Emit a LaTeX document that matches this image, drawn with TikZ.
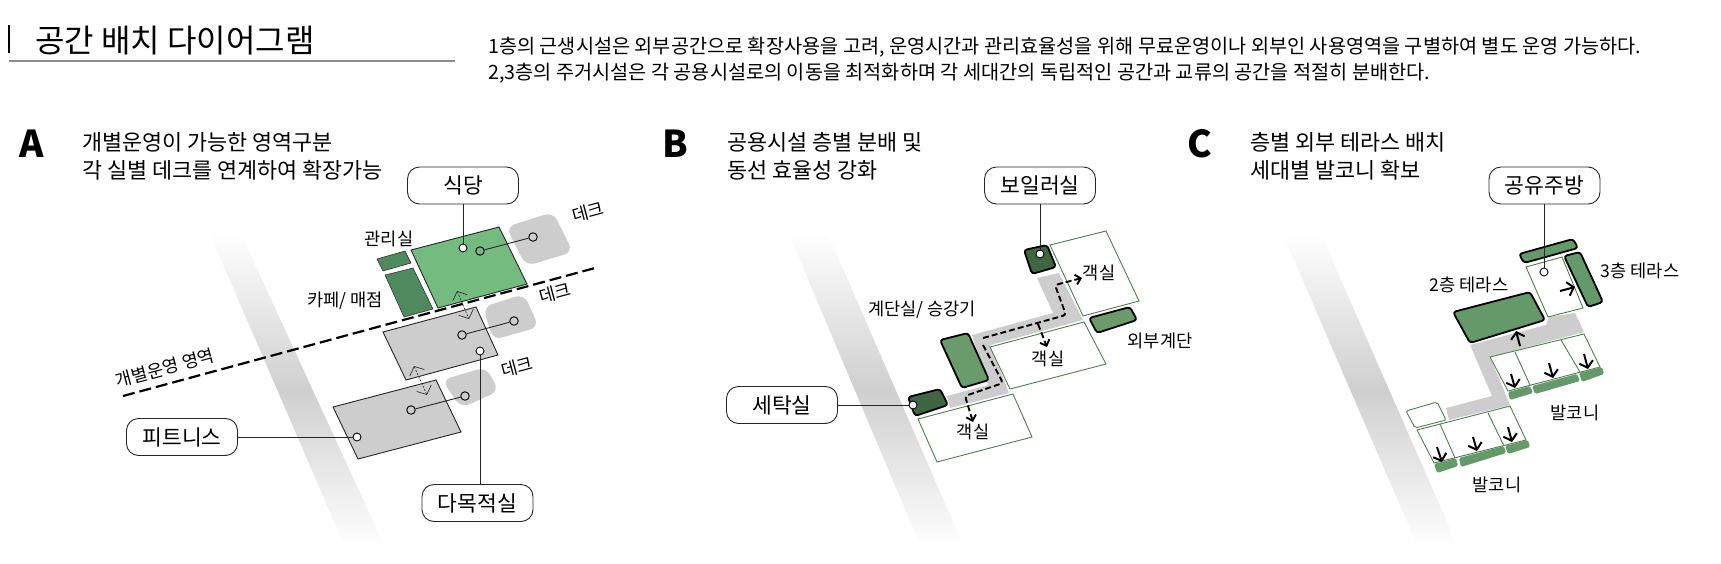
\documentclass[tikz,border=0pt]{standalone}
\usepackage{fontspec}
\setmainfont{Noto Sans CJK KR}
\usepackage{xcolor}
\usetikzlibrary{arrows.meta, positioning}

\definecolor{roadgray}{HTML}{CFCFCF}
\definecolor{deckgray}{HTML}{CDCDCD}
\definecolor{dinegreen}{HTML}{74BB80}
\definecolor{cafegreen}{HTML}{4F8A5F}
\definecolor{stairgreen}{HTML}{6A9C6B}
\definecolor{terracegreen}{HTML}{64996A}
\definecolor{darkgreen}{HTML}{3E6640}
\definecolor{linegreen}{HTML}{4F7F50}

\begin{document}
\begin{tikzpicture}[
  x=1pt, y=-1pt,
  every node/.style={font=\fontsize{17.6}{20}\selectfont, inner sep=0pt},
  road/.style={top color=white, bottom color=white, middle color=roadgray},
  deck/.style={fill=deckgray, rounded corners=9pt},
  room/.style={fill=deckgray, draw=black!85, line width=0.9pt},
  guest/.style={fill=white, draw=linegreen, line width=0.9pt},
  stairbox/.style={draw=black, line width=1.8pt, rounded corners=3pt},
  balcony/.style={fill=terracegreen, rounded corners=1.5pt},
  callout/.style={rectangle, rounded corners=12pt, draw=black!85, line width=0.9pt, fill=white,
                  minimum width=111pt, minimum height=37pt, font=\fontsize{21.5}{24}\selectfont},
  header/.style={align=left, anchor=north west, font=\fontsize{21.8}{28}\selectfont},
  letter/.style={font=\fontsize{37}{40}\selectfont\bfseries},
  dot/.style={circle, draw=black, line width=0.9pt, fill=white, minimum size=8pt},
  linkdot/.style={circle, draw=black, line width=0.9pt, minimum size=8.5pt},
  leader/.style={draw=black!85, line width=0.9pt},
  dblarr/.style={{Straight Barb[length=7pt,width=16pt]}-{Straight Barb[length=7pt,width=16pt]},
                 dash pattern=on 2pt off 1.5pt, line width=0.7pt, draw=black!80},
  zone/.style={dash pattern=on 12pt off 5pt, line width=2.2pt},
  flow/.style={-{Straight Barb[length=5pt,width=10pt]}, dash pattern=on 6pt off 3pt,
               line width=1.9pt, rounded corners=3pt},
  arr/.style={-{Straight Barb[length=6pt,width=14pt]}, line width=2pt},
]
  \useasboundingbox (0,0) rectangle (1721,563);

  % Title
  \coordinate (barT) at (9,25);
  \coordinate (barB) at (9,53);
  \coordinate (ruleL) at (9,61);
  \coordinate (ruleR) at (455,61);
  \draw[line width=1.1pt] (barT) -- (barB);
  \draw[black!45, line width=1.4pt] (ruleL) -- (ruleR);
  \node[anchor=west, font=\fontsize{32}{36}\selectfont] (title) at (35,41) {공간 배치 다이어그램};
  \node[anchor=north west, align=left, font=\fontsize{19.7}{25.5}\selectfont] (intro) at (488,37)
    {1층의 근생시설은 외부공간으로 확장사용을 고려, 운영시간과 관리효율성을 위해 무료운영이나 외부인 사용영역을 구별하여 별도 운영 가능하다.\\
     2,3층의 주거시설은 각 공용시설로의 이동을 최적화하며 각 세대간의 독립적인 공간과 교류의 공간을 적절히 분배한다.};

  % Panel A
  \node[letter] (letA) at (32,144) {A};
  \node[header] (headA) at (82,132) {개별운영이 가능한 영역구분\\각 실별 데크를 연계하여 확장가능};
  \shade[road] (209,232) -- (240,232) -- (385,547) -- (345,547) -- cycle;

  \fill[deck] (506,227) -- (553,212) -- (573,252) -- (526,266) -- cycle;
  \fill[deck] (483,307) -- (524,294) -- (539,327) -- (493,340) -- cycle;
  \fill[deck] (442,380) -- (486,367) -- (499,391) -- (461,408) -- cycle;
  \draw[fill=dinegreen, draw=black!85, line width=0.9pt] (411,250) -- (499,227) -- (527,284) -- (438,308) -- cycle;
  \draw[fill=cafegreen, draw=black!85, line width=0.5pt] (377,259) -- (405,251) -- (411,263) -- (383,271) -- cycle;
  \draw[fill=cafegreen, draw=black!85, line width=0.5pt] (385,275) -- (413,268) -- (433,309) -- (404,317) -- cycle;
  \draw[room] (383,332) -- (476,307) -- (498,355) -- (406,380) -- cycle;
  \draw[room] (333,407) -- (436,380) -- (461,432) -- (358,459) -- cycle;

  \node[callout] (dining) at (463,185.5) {식당};
  \node[callout] (fitness) at (182,437) {피트니스};
  \node[callout] (multi) at (477.5,503) {다목적실};
  \node[dot] (diningDot) at (463,248) {};
  \node[dot] (multiDot) at (480,351) {};
  \node[dot] (fitnessDot) at (357,437) {};
  \node[linkdot] (inA) at (480,251) {};
  \node[linkdot] (outA) at (533,237) {};
  \node[linkdot] (inB) at (462,335) {};
  \node[linkdot] (outB) at (514,321) {};
  \node[linkdot] (inC) at (411,410) {};
  \node[linkdot] (outC) at (465,396) {};

  \coordinate (zoneW) at (123,396);
  \coordinate (zoneE) at (595,268);
  \coordinate (vertAt) at (457,291);
  \coordinate (vertAb) at (469,319);
  \coordinate (vertBt) at (414,366);
  \coordinate (vertBb) at (427,395);

  % Connectors A
  \draw[leader] (dining.south -| diningDot) -- (diningDot);
  \draw[leader] (multi.north -| multiDot) -- (multiDot);
  \draw[leader] (fitness) -- (fitnessDot);
  \draw[leader] (inA) -- (outA);
  \draw[leader] (inB) -- (outB);
  \draw[leader] (inC) -- (outC);
  \draw[zone] (zoneW) -- (zoneE);
  \draw[dblarr] (vertAt) -- (vertAb);
  \draw[dblarr] (vertBt) -- (vertBb);

  \node (lblOffice) at (389,239) {관리실};
  \node (lblCafe) at (345,301) {카페/ 매점};
  \node[rotate=15] (lblZone) at (165,368) {개별운영 영역};
  \node[rotate=15] (lblDeckA) at (588,212) {데크};
  \node[rotate=15] (lblDeckB) at (555,293) {데크};
  \node[rotate=15] (lblDeckC) at (517,367) {데크};

  % Panel B
  \node[letter] (letB) at (675,144) {B};
  \node[header] (headB) at (727,132) {공용시설 층별 분배 및\\동선 효율성 강화};
  \shade[road] (788,232) -- (827,232) -- (964,547) -- (921,547) -- cycle;

  \fill[deckgray] (1037,278) -- (1059,273) -- (1083,320) -- (990,345) -- (1009,393) -- (950,408)
    -- (947,396) -- (988,385) -- (972,335) -- (1053,313) -- cycle;
  \draw[guest] (1050,245) -- (1106,231) -- (1139,301) -- (1083,316) -- cycle;
  \draw[guest] (990,347) -- (1084,322) -- (1106,364) -- (1010,389) -- cycle;
  \draw[guest] (918,419) -- (1013,394) -- (1032,437) -- (937,462) -- cycle;
  \draw[stairbox, fill=stairgreen] (940,340) -- (968,333) -- (989,380) -- (962,388) -- cycle;
  \draw[stairbox, fill=stairgreen] (1089,318) -- (1130,307) -- (1137,320) -- (1097,333) -- cycle;
  \draw[stairbox, fill=darkgreen] (1024,250) -- (1047,245) -- (1056,267) -- (1032,274) -- cycle;
  \draw[stairbox, fill=darkgreen] (908,397) -- (940,389) -- (948,405) -- (915,416) -- cycle;

  \node[callout] (boiler) at (1040,185.5) {보일러실};
  \node[callout] (laundry) at (782,405) {세탁실};
  \node[dot] (boilerDot) at (1040,254) {};
  \node[dot] (laundryDot) at (913,405) {};

  \coordinate (flowS) at (983,338);
  \coordinate (flowJ) at (1038,324);
  \coordinate (flowK) at (1066,315);
  \coordinate (flowL) at (1055,285);
  \coordinate (flowT) at (1082,278);
  \coordinate (flowM) at (1047,347);
  \coordinate (flowP) at (983,345);
  \coordinate (flowQ) at (1003,383);
  \coordinate (flowR) at (965,396);
  \coordinate (flowU) at (973,422);

  % Connectors B
  \draw[leader] (boiler.south -| boilerDot) -- (boilerDot);
  \draw[leader] (laundry) -- (laundryDot);
  \draw[flow] (flowS) -- (flowK) -- (flowL) -- (flowT);
  \draw[flow] (flowJ) -- (flowM);
  \draw[flow] (flowP) -- (flowQ) -- (flowR) -- (flowU);

  \node (lblLift) at (922,310) {계단실/ 승강기};
  \node (lblOut) at (1160,341) {외부계단};
  \node (lblRoomA) at (1099,273) {객실};
  \node (lblRoomB) at (1048,359) {객실};
  \node (lblRoomC) at (973,432) {객실};

  % Panel C
  \node[letter] (letC) at (1200,144) {C};
  \node[header] (headC) at (1250,132) {층별 외부 테라스 배치\\세대별 발코니 확보};
  \shade[road] (1282,232) -- (1320,232) -- (1458,547) -- (1418,547) -- cycle;

  \fill[deckgray] (1470,345) -- (1546,325) -- (1549,317) -- (1575,313) -- (1584,332) -- (1490,357)
    -- (1510,405) -- (1449,420) -- (1446,408) -- (1492,396) -- cycle;
  \draw[guest] (1526,267) -- (1562,257) -- (1583,308) -- (1548,317) -- cycle;
  \draw[guest] (1490,357) -- (1584,334) -- (1600,367) -- (1508,391) -- cycle;
  \draw[guest] (1515,352) -- (1530,385);
  \draw[guest] (1561,340) -- (1580,372);
  \draw[guest] (1417,430) -- (1510,406) -- (1526,440) -- (1434,463) -- cycle;
  \draw[guest] (1440,424) -- (1455,458);
  \draw[guest] (1488,413) -- (1504,446);
  \draw[guest, rounded corners=2pt] (1406,411) -- (1437,402) -- (1446,420) -- (1415,428) -- cycle;
  \draw[stairbox, fill=terracegreen] (1519,254) -- (1573,239) -- (1578,248) -- (1524,263) -- cycle;
  \draw[stairbox, fill=terracegreen] (1564,256) -- (1580,252) -- (1603,302) -- (1588,307) -- cycle;
  \draw[stairbox, fill=terracegreen] (1453,312) -- (1530,292) -- (1545,320) -- (1470,343) -- cycle;
  \fill[balcony] (1508,392) -- (1530,386) -- (1533,393) -- (1510,400) -- cycle;
  \fill[balcony] (1532,386) -- (1577,374) -- (1580,381) -- (1535,394) -- cycle;
  \fill[balcony] (1579,373) -- (1602,367) -- (1604,374) -- (1582,382) -- cycle;
  \fill[balcony] (1434,464) -- (1456,458) -- (1458,466) -- (1437,473) -- cycle;
  \fill[balcony] (1459,458) -- (1504,446) -- (1506,453) -- (1461,467) -- cycle;
  \fill[balcony] (1505,446) -- (1528,440) -- (1530,447) -- (1508,454) -- cycle;

  \node[callout] (kitchen) at (1544.5,185.5) {공유주방};
  \node[dot] (kitchenDot) at (1544,272) {};

  \coordinate (arrKs) at (1560,291);
  \coordinate (arrKe) at (1575,287);
  \coordinate (arrUs) at (1520,346);
  \coordinate (arrUe) at (1516,331);
  \coordinate (arrAs) at (1511,374);
  \coordinate (arrAe) at (1515,388);
  \coordinate (arrBs) at (1549,363);
  \coordinate (arrBe) at (1553,378);
  \coordinate (arrCs) at (1584,354);
  \coordinate (arrCe) at (1588,369);
  \coordinate (arrDs) at (1437,447);
  \coordinate (arrDe) at (1442,462);
  \coordinate (arrEs) at (1473,437);
  \coordinate (arrEe) at (1477,451);
  \coordinate (arrFs) at (1508,427);
  \coordinate (arrFe) at (1512,442);

  % Connectors C
  \draw[leader] (kitchen.south -| kitchenDot) -- (kitchenDot);
  \foreach \s/\e in {arrKs/arrKe, arrUs/arrUe, arrAs/arrAe, arrBs/arrBe, arrCs/arrCe, arrDs/arrDe, arrEs/arrEe, arrFs/arrFe}
    \draw[arr] (\s) -- (\e);

  \node (lblTwo) at (1469,285) {2층 테라스};
  \node (lblThree) at (1640,271) {3층 테라스};
  \node (lblBalA) at (1575,413) {발코니};
  \node (lblBalB) at (1497,485) {발코니};
\end{tikzpicture}
\end{document}
